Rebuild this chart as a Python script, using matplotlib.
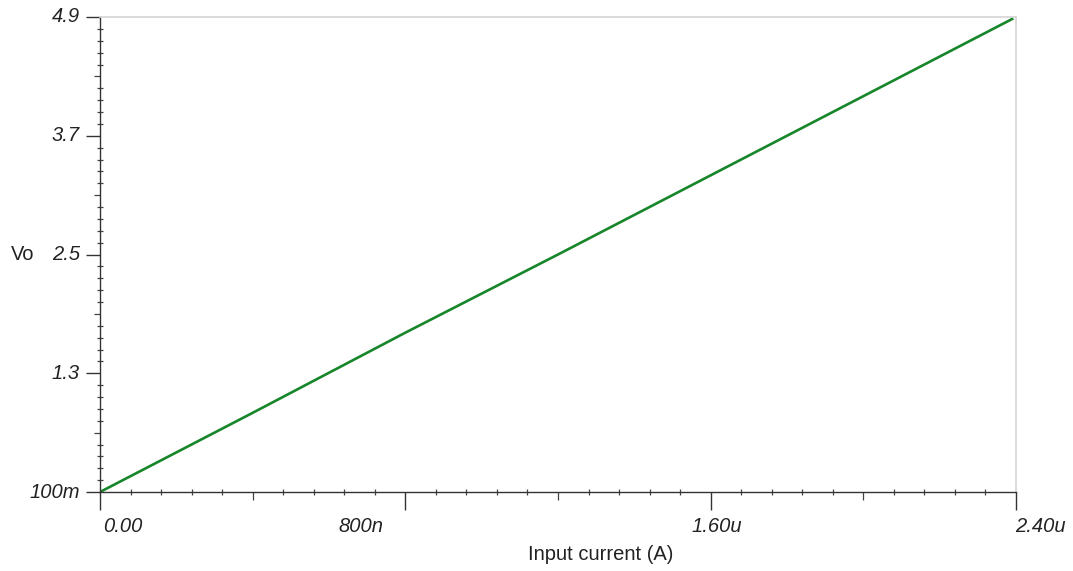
import numpy as np
import matplotlib
matplotlib.use("Agg")
import matplotlib.pyplot as plt
from matplotlib.transforms import offset_copy

# input current (A) and output voltage (V)
i_in = [0.0, 0.4e-6, 0.8e-6, 1.2e-6, 1.6e-6, 2.0e-6, 2.39e-6]
v_out = [0.10, 0.90, 1.71, 2.50, 3.30, 4.10, 4.88]

xticks = [0.0, 0.8e-6, 1.6e-6, 2.4e-6]
xlabels = ["0.00", "800n", "1.60u", "2.40u"]
yticks = [0.1, 1.3, 2.5, 3.7, 4.9]
ylabels = ["100m", "1.3", "2.5", "3.7", "4.9"]

plt.rcParams['font.family'] = ['Liberation Sans', 'DejaVu Sans']

fig = plt.figure(figsize=(10.73, 5.71), dpi=100)
ax = fig.add_axes([100 / 1073, 79 / 571, 916 / 1073, 475 / 571])

ax.plot(i_in, v_out, color='#17862a', lw=1.9)

ax.set_xlim(0, 2.4e-6)
ax.set_ylim(0.1, 4.9)

for s in ['top', 'right']:
    ax.spines[s].set_color('#d4d4d4')
    ax.spines[s].set_linewidth(1.2)
for s in ['left', 'bottom']:
    ax.spines[s].set_color('#333333')
    ax.spines[s].set_linewidth(1.0)

# ticks: long (labelled), medium (halfway) and small minor
dx = 0.08e-6
dy = 0.12
xminor = [k * dx for k in range(31) if k % 10 != 0]
yminor = [0.1 + k * dy for k in range(41) if k % 10 != 0]
ax.set_xticks(xticks)
ax.set_yticks(yticks)
ax.set_xticks(xminor, minor=True)
ax.set_yticks(yminor, minor=True)
ax.set_xticklabels([])
ax.set_yticklabels([])
ax.tick_params(axis='x', which='major', direction='out', length=13, width=1.0, color='#333333')
ax.tick_params(axis='y', which='major', direction='out', length=10, width=1.0, color='#333333')
ax.tick_params(which='minor', direction='inout', length=4, width=0.9, color='#444444')

for k, t in enumerate(ax.xaxis.get_minor_ticks()):
    if (k + 1) % 9 == 5:
        t.tick1line.set_marker(3)  # TICKDOWN
        t.tick1line.set_markersize(6)
for k, t in enumerate(ax.yaxis.get_minor_ticks()):
    if (k + 1) % 9 == 5:
        t.tick1line.set_marker(0)  # TICKLEFT
        t.tick1line.set_markersize(4)

# tick labels, placed the way the original plot puts them
fs = 14.5
xoff = [(3, 'left'), (-22, 'right'), (6, 'center'), (-1, 'left')]
for x, lab, (off, ha) in zip(xticks, xlabels, xoff):
    tr = offset_copy(ax.get_xaxis_transform(), fig=fig, x=off * 0.72, y=-25 * 0.72, units='points')
    ax.text(x, 0, lab, transform=tr, ha=ha, va='top', fontsize=fs, style='italic', color='#222222')
for y, lab in zip(yticks, ylabels):
    tr = offset_copy(ax.get_yaxis_transform(), fig=fig, x=-20 * 0.72, y=0, units='points')
    ax.text(0, y, lab, transform=tr, ha='right', va='center', fontsize=fs, style='italic', color='#222222')

tr = offset_copy(ax.get_yaxis_transform(), fig=fig, x=-89 * 0.72, y=0, units='points')
ax.text(0, 2.5, "Vo", transform=tr, ha='left', va='center', fontsize=fs, color='#222222')
fig.text(601 / 1073, 1 - 555 / 571, "Input current (A)", ha='center', va='center',
         fontsize=fs, color='#222222')

fig.savefig("out.png", dpi=100)
